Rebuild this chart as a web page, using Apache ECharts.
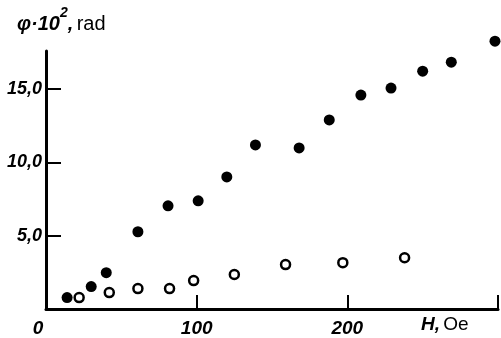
<!DOCTYPE html>
<html>
<head>
<meta charset="utf-8">
<script src="https://cdn.jsdelivr.net/npm/echarts@6/dist/echarts.min.js"></script>
<style>
  html, body { margin: 0; padding: 0; background: #fff; }
  #chart { width: 501px; height: 338px; }
</style>
</head>
<body>
<div id="chart"></div>
<script>
  // magnetic field H, Oe and rotation angle phi*10^2, rad
  var filledH = [14, 30, 40, 61, 81, 101, 120, 139, 168, 188, 209, 229, 250, 269, 298];
  var filledPhi = [0.78, 1.53, 2.48, 5.27, 7.04, 7.38, 9.01, 11.19, 10.99, 12.9, 14.59, 15.07, 16.22, 16.84, 18.27];
  var hollowH = [22, 42, 61, 82, 98, 125, 159, 197, 238];
  var hollowPhi = [0.78, 1.12, 1.39, 1.39, 1.94, 2.35, 3.03, 3.16, 3.5];
  var xTicks = ['0', '100', '200'];
  var yTicks = ['5,0', '10,0', '15,0'];

  var tickFont = {
    fontFamily: '"Liberation Sans", Arial, sans-serif',
    fontStyle: 'italic',
    fontWeight: 'bold',
    color: '#000'
  };

  function pairs(xs, ys) {
    var out = [];
    for (var i = 0; i < xs.length; i++) {
      out.push([xs[i], ys[i]]);
    }
    return out;
  }

  var chart = echarts.init(document.getElementById('chart'));
  chart.setOption({
    backgroundColor: '#fff',
    animation: false,
    grid: { left: 46, right: 2, top: 51, bottom: 28 },
    xAxis: {
      type: 'value',
      min: 0,
      max: 300,
      interval: 100,
      splitLine: { show: false },
      axisLine: { lineStyle: { color: '#000', width: 3 } },
      axisTick: { inside: true, length: 14, lineStyle: { color: '#000', width: 2 } },
      axisLabel: Object.assign({
        fontSize: 19,
        margin: 10,
        showMaxLabel: true,
        formatter: function (v) {
          var idx = v / 100;
          if (idx === 0) return '{z|' + xTicks[0] + '}';
          return idx < xTicks.length ? xTicks[idx] : '';
        },
        rich: {
          z: Object.assign({ fontSize: 19, padding: [0, 16, 0, 0] }, tickFont)
        }
      }, tickFont)
    },
    yAxis: {
      type: 'value',
      min: 0,
      max: 17.6,
      interval: 5,
      splitLine: { show: false },
      axisLine: { lineStyle: { color: '#000', width: 3 } },
      axisTick: {
        inside: true, length: 15, lineStyle: { color: '#000', width: 2 },
        interval: function (i, v) { return v > 0 && v < 17; }
      },
      axisLabel: Object.assign({
        fontSize: 18,
        margin: 4,
        showMaxLabel: false,
        formatter: function (v) {
          var idx = v / 5 - 1;
          return idx >= 0 && idx < yTicks.length ? yTicks[idx] : '';
        }
      }, tickFont)
    },
    series: [
      {
        type: 'scatter',
        clip: false,
        symbol: 'circle',
        symbolSize: 11,
        itemStyle: { color: '#000', opacity: 1 },
        data: pairs(filledH, filledPhi)
      },
      {
        type: 'scatter',
        clip: false,
        symbol: 'circle',
        symbolSize: 9,
        itemStyle: { color: '#fff', borderColor: '#000', borderWidth: 2.5, opacity: 1 },
        data: pairs(hollowH, hollowPhi)
      }
    ],
    graphic: [
      {
        type: 'text',
        left: 17,
        top: 6,
        style: {
          text: '{b|φ·10}{s|2}{b|,} {n|rad}',
          rich: {
            b: Object.assign({ fontSize: 20, verticalAlign: 'bottom', lineHeight: 28 }, tickFont),
            s: Object.assign({ fontSize: 14, verticalAlign: 'top', lineHeight: 28 }, tickFont),
            n: { fontSize: 20, fontFamily: '"Liberation Sans", sans-serif', color: '#000', verticalAlign: 'bottom', lineHeight: 28 }
          }
        }
      },
      {
        type: 'text',
        left: 421,
        top: 315,
        style: {
          text: '{b|H,} {n|Oe}',
          rich: {
            b: Object.assign({ fontSize: 19 }, tickFont),
            n: { fontSize: 19, fontFamily: '"Liberation Sans", sans-serif', color: '#000' }
          }
        }
      }
    ]
  });
</script>
</body>
</html>
